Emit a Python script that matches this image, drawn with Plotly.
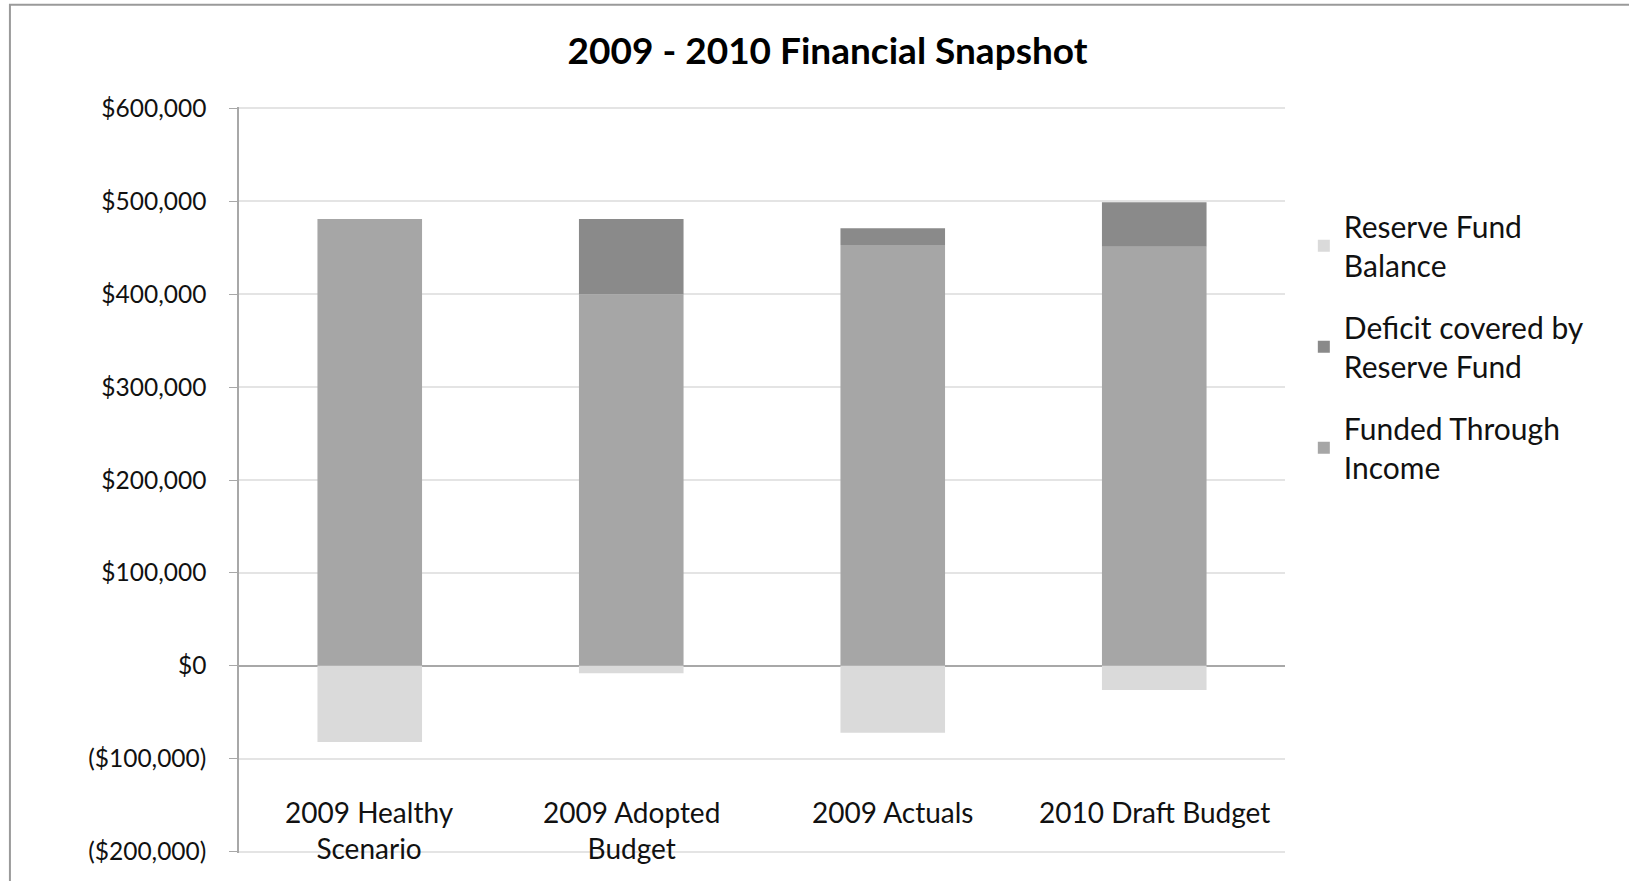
import plotly.graph_objects as go

categories = ["2009 Healthy Scenario", "2009 Adopted Budget", "2009 Actuals", "2010 Draft Budget"]
category_labels = ["2009 Healthy<br>Scenario", "2009 Adopted<br>Budget", "2009 Actuals", "2010 Draft Budget"]
funded_income = [481000, 400000, 453000, 451000]
deficit_reserve = [0, 81000, 18000, 48000]
reserve_balance = [-82000, -8000, -72000, -26000]
y_ticks = [-200000, -100000, 0, 100000, 200000, 300000, 400000, 500000, 600000]
y_tick_text = ["($200,000)", "($100,000)", "$0", "$100,000", "$200,000", "$300,000",
               "$400,000", "$500,000", "$600,000"]

FONT = "Lato, 'Open Sans', sans-serif"

fig = go.Figure()
fig.add_trace(go.Bar(x=categories, y=funded_income, name="Funded Through<br>Income",
                     marker=dict(color="#a6a6a6", line=dict(width=0)),
                     legendgroup="c", legendrank=3))
fig.add_trace(go.Bar(x=categories, y=deficit_reserve, name="Deficit covered by<br>Reserve Fund",
                     marker=dict(color="#8a8a8a", line=dict(width=0)),
                     legendgroup="b", legendrank=2))
fig.add_trace(go.Bar(x=categories, y=reserve_balance, name="Reserve Fund<br>Balance",
                     marker=dict(color="#dadada", line=dict(width=0)),
                     legendgroup="a", legendrank=1))

fig.update_layout(
    width=1629, height=881,
    barmode="relative", bargap=0.6,
    plot_bgcolor="white", paper_bgcolor="white",
    margin=dict(l=239, r=344, t=107, b=28),
    font=dict(family=FONT, color="#111111"),
    title=dict(text="<b>2009 - 2010 Financial Snapshot</b>", x=0.508, xanchor="center",
               y=0.942, yanchor="middle", font=dict(size=37, family=FONT, color="#000000")),
    legend=dict(x=1.018, xanchor="left", y=0.875, yanchor="top", traceorder="grouped",
                tracegroupgap=20, font=dict(size=30, family=FONT, color="#111111"),
                itemwidth=30, bgcolor="rgba(0,0,0,0)"),
    showlegend=True,
)
fig.update_yaxes(range=[-201500, 601500], tickvals=y_ticks, ticktext=y_tick_text,
                 showgrid=True, gridcolor="#e4e4e4", gridwidth=1.5,
                 zeroline=True, zerolinecolor="#a8a8a8", zerolinewidth=2,
                 showline=True, linecolor="#a8a8a8", linewidth=1.5,
                 ticks="outside", ticklen=8, tickcolor="#a8a8a8",
                 ticklabelstandoff=18,
                 tickfont=dict(size=24.5, family=FONT, color="#111111"))
fig.update_xaxes(showline=False, showgrid=False, ticks="", showticklabels=False)

for cat, lab in zip(categories, category_labels):
    fig.add_annotation(x=cat, xref="x", y=0.081, yref="paper", yanchor="top",
                       text=lab, showarrow=False, align="center",
                       font=dict(size=28, family=FONT, color="#111111"))

fig.add_shape(type="rect", xref="paper", yref="paper", x0=-0.219, x1=1.35, y0=-0.06, y1=1.137,
              line=dict(color="#9a9a9a", width=2), fillcolor="rgba(0,0,0,0)", layer="below")

fig.write_html("out.html")
